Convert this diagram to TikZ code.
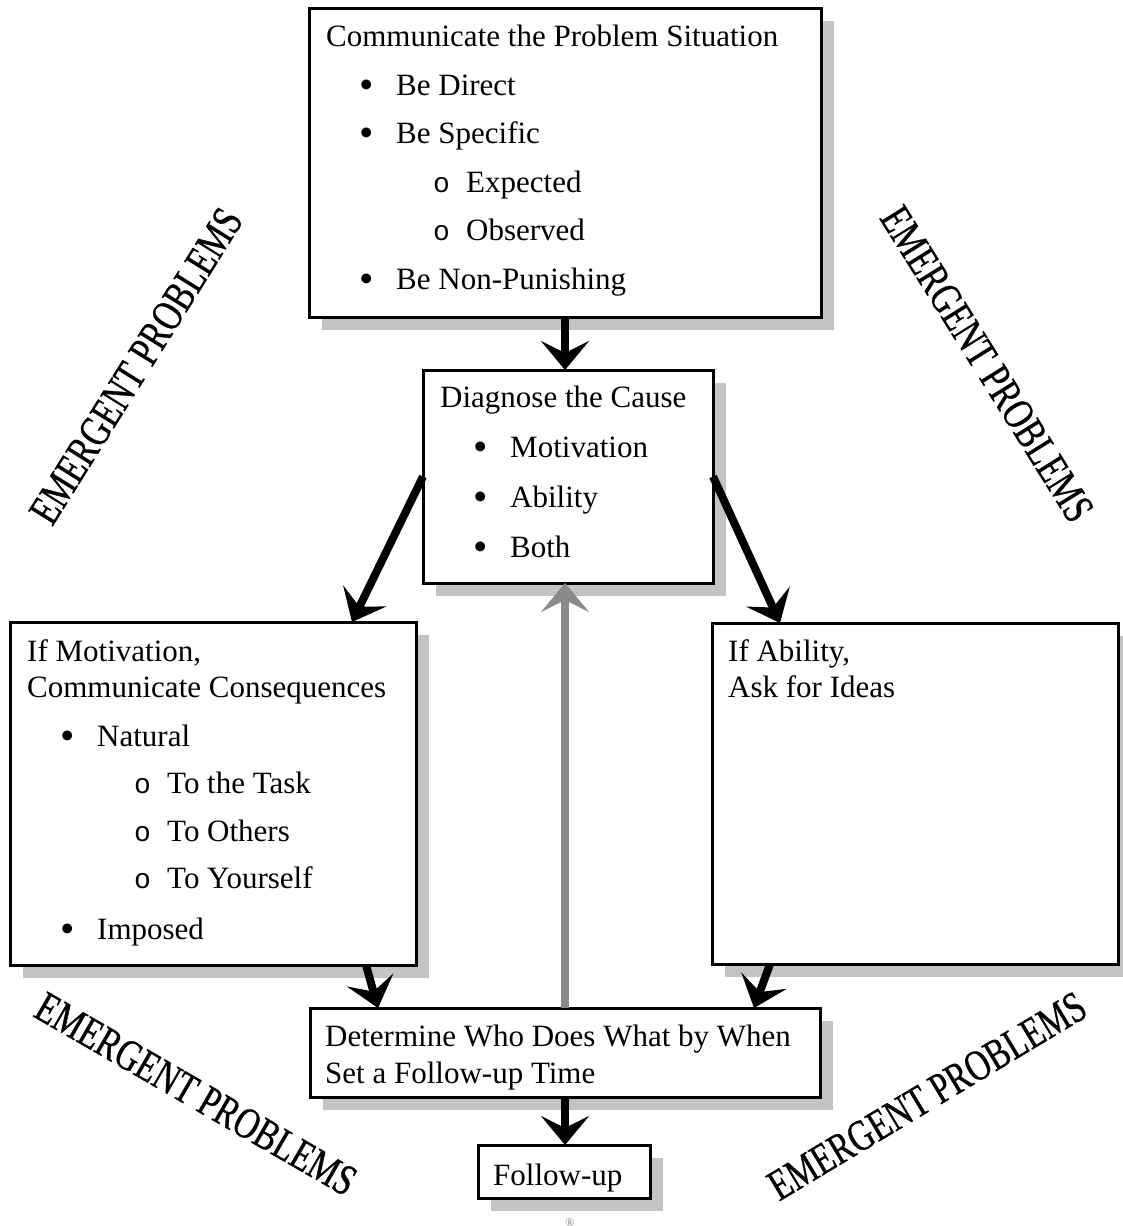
\documentclass[tikz,border=0pt]{standalone}
\usepackage{fontspec}
\setmainfont{Liberation Serif}
\newfontfamily\emfont[FakeStretch=0.75,FakeBold=0.7]{Liberation Serif}
\newfontfamily\ringfont{Liberation Mono}
\usepackage{tikz}
\usetikzlibrary{arrows.meta,positioning,shadows,calc}
\definecolor{shadowgray}{RGB}{195,195,195}
\definecolor{arrowgray}{RGB}{138,138,138}
\newcommand{\bitem}[1]{\hspace*{33pt}\makebox[37pt][l]{\raisebox{-3pt}{\fontsize{41}{41}\selectfont •}}#1}
\newcommand{\citem}[1]{\hspace*{107pt}\makebox[33pt][l]{\fontsize{28}{28}\ringfont o}#1}

\begin{document}
\begin{tikzpicture}[x=1pt,y=-1pt,
          box/.style={draw=black,line width=3pt,fill=white,inner sep=0pt,
                      outer sep=0pt,anchor=north west,
                      drop shadow={shadow xshift=13pt,shadow yshift=-13pt,
                                   fill=shadowgray,opacity=1}},
          txt/.style={anchor=north west,inner sep=0pt,align=left,
                      font=\fontsize{31}{36.5}\selectfont},
          emlbl/.style={inner sep=0pt,font=\emfont\fontsize{44}{44}\selectfont},
          arr/.style={line width=8pt,-{Stealth[length=29pt,width=48pt,inset=12pt]}},
          garr/.style={arr,draw=arrowgray}]
        \useasboundingbox (0,0) rectangle (1122,1226);
        \node[box,minimum width=512,minimum height=309] (topbox) at (309,8) {};
        \node[box,minimum width=290,minimum height=213] (diagbox) at (423,370) {};
        \node[box,minimum width=406,minimum height=343] (lbox) at (10,622) {};
        \node[box,minimum width=406,minimum height=341] (rbox) at (712,623) {};
        \node[box,minimum width=510,minimum height=89] (detbox) at (310,1008) {};
        \node[box,minimum width=172,minimum height=53] (fupbox) at (478,1145) {};
        \node[txt] (toptext) at ([shift={(17,17)}]topbox.north west)
          {Communicate the Problem Situation\\[12pt]
           \bitem{Be Direct}\\[12pt]
           \bitem{Be Specific}\\[12pt]
           \citem{Expected}\\[12pt]
           \citem{Observed}\\[12pt]
           \bitem{Be Non-Punishing}};
        \node[txt] (diagtext) at ([shift={(17,16)}]diagbox.north west)
          {Diagnose the Cause\\[13.5pt]
           \bitem{Motivation}\\[13.5pt]
           \bitem{Ability}\\[13.5pt]
           \bitem{Both}};
        \node[txt] (ltext) at ([shift={(17,17)}]lbox.north west)
          {If Motivation,\\
           Communicate Consequences\\[12pt]
           \bitem{Natural}\\[11pt]
           \citem{To the Task}\\[11pt]
           \citem{To Others}\\[11pt]
           \citem{To Yourself}\\[14pt]
           \bitem{Imposed}};
        \node[txt] (rtext) at ([shift={(16,16)}]rbox.north west)
          {If Ability,\\
           Ask for Ideas};
        \node[txt] (dettext) at ([shift={(15,17)}]detbox.north west)
          {Determine Who Does What by When\\
           Set a Follow-up Time};
        \node[txt] (fuptext) at ([shift={(15,19)}]fupbox.north west) {Follow-up};
        \node[emlbl,rotate=58] (epul) at (136,366) {EMERGENT PROBLEMS};
        \node[emlbl,rotate=-58] (epur) at (987,364) {EMERGENT PROBLEMS};
        \node[emlbl,rotate=-30] (epll) at (196,1094) {EMERGENT PROBLEMS};
        \node[emlbl,rotate=31] (eplr) at (927,1096) {EMERGENT PROBLEMS};
        \node[font=\fontsize{12}{12}\selectfont,text=gray] (reg) at (570,1223) {®};
        \draw[arr] (topbox.south) -- (topbox.south |- diagbox.north);
        \draw[arr] (diagbox.west) -- ([xshift=-64pt]lbox.north east);
        \draw[arr] (diagbox.east) -- ([xshift=68pt]rbox.north west);
        \draw[arr] ([xshift=-50pt]lbox.south east) -- ([xshift=68pt]detbox.north west);
        \draw[arr] ([xshift=58pt]rbox.south west) -- ([xshift=-66pt]detbox.north east);
        \draw[garr] (detbox.north) -- (detbox.north |- diagbox.south);
        \draw[arr] (detbox.south) -- (detbox.south |- fupbox.north);
      \end{tikzpicture}
\end{document}
